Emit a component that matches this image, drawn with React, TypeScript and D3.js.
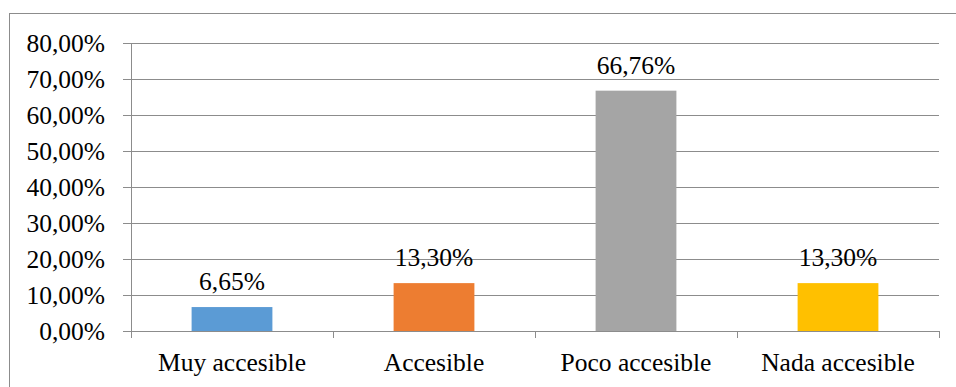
import React from "react";
import * as d3 from "d3";

const categories = ["Muy accesible", "Accesible", "Poco accesible", "Nada accesible"];
const values = [6.65, 13.3, 66.76, 13.3];
const valueLabels = ["6,65%", "13,30%", "66,76%", "13,30%"];
const colors = ["#5B9BD5", "#ED7D31", "#A5A5A5", "#FFC000"];
const yTicks = [0, 10, 20, 30, 40, 50, 60, 70, 80];

const W = 956;
const H = 387;
const plot = { left: 131, right: 939, top: 43, bottom: 331 };
const font = '"Liberation Serif", "Times New Roman", Times, "DejaVu Serif", serif';
const fontSize = 25.5;
const gridColor = "#8C8C8C";
const textStyle = { fontFamily: font, fontSize: fontSize + "px" };

export default function App() {
  const x = d3.scaleBand<string>().domain(categories).range([plot.left, plot.right]).paddingInner(0.6).paddingOuter(0.3);
  const band = d3.scaleBand<string>().domain(categories).range([plot.left, plot.right]);
  const y = d3.scaleLinear().domain([0, 80]).range([plot.bottom, plot.top]);
  const fmt = (v: number) => v.toFixed(2).replace(".", ",") + "%";

  return (
    <div style={{ position: "fixed", left: 0, top: 0 }}>
      <svg width={W} height={H} style={{ display: "block", background: "#fff" }}>
        <rect x={9.5} y={13.5} width={1200} height={600} fill="#fff" stroke={gridColor} strokeWidth={1} />
        {yTicks.map((t) => (
          <g key={t}>
            <line x1={plot.left - 8} x2={plot.right} y1={Math.round(y(t)) + 0.5} y2={Math.round(y(t)) + 0.5} stroke={gridColor} strokeWidth={1} />
            <text x={105} y={y(t) + 8.5} textAnchor="end" style={textStyle} fill="#000">
              {fmt(t)}
            </text>
          </g>
        ))}
        <line x1={plot.left + 0.5} x2={plot.left + 0.5} y1={plot.top} y2={plot.bottom + 7} stroke={gridColor} strokeWidth={1} />
        {[...categories.map((c) => band(c) as number), plot.right].map((bx, i) => (
          <line key={i} x1={Math.round(bx) + 0.5} x2={Math.round(bx) + 0.5} y1={plot.bottom} y2={plot.bottom + 7} stroke={gridColor} strokeWidth={1} />
        ))}
        {categories.map((c, i) => (
          <g key={c}>
            <rect x={x(c)} y={y(values[i])} width={x.bandwidth()} height={y(0) - y(values[i])} fill={colors[i]} />
            <text x={(x(c) as number) + x.bandwidth() / 2} y={y(values[i]) - 17} textAnchor="middle" style={textStyle} fill="#000">
              {valueLabels[i]}
            </text>
            <text x={(band(c) as number) + band.bandwidth() / 2} y={371} textAnchor="middle" style={textStyle} fill="#000">
              {c}
            </text>
          </g>
        ))}
      </svg>
    </div>
  );
}
